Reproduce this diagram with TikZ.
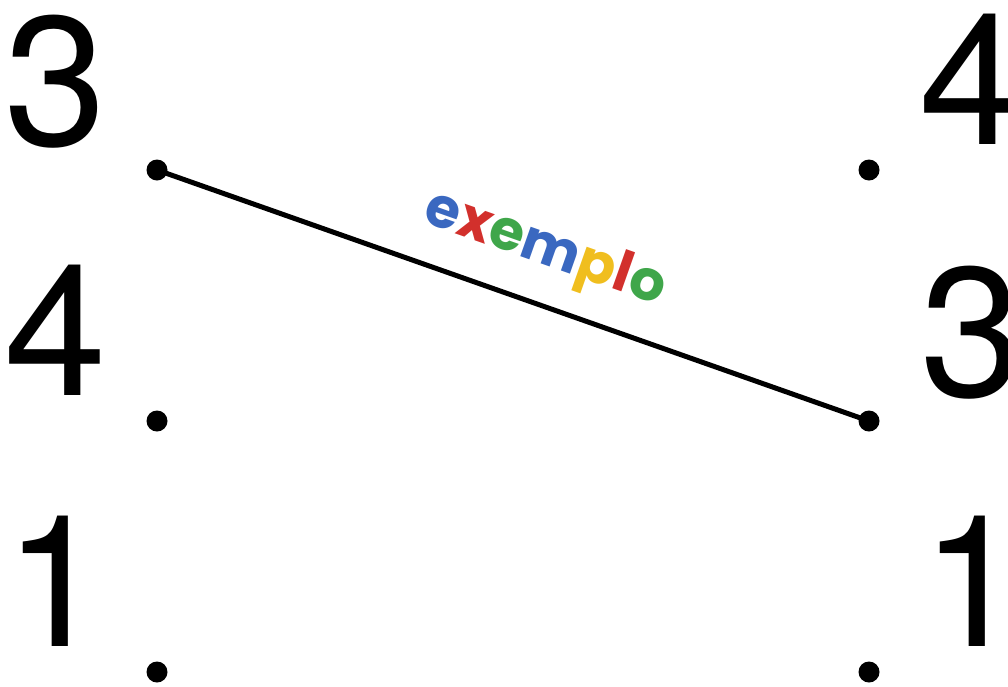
\documentclass[tikz,border=0pt]{standalone}
\usepackage{fontspec}
\setmainfont{TeX Gyre Heros}
\newfontfamily\sketchfont{Poppins}
\usepackage{tikz}
\usetikzlibrary{positioning}
\definecolor{skblue}{HTML}{3A68C0}
\definecolor{skred}{HTML}{D2302C}
\definecolor{skgreen}{HTML}{3FA64A}
\definecolor{skyellow}{HTML}{F0BE1E}

\begin{document}
\begin{tikzpicture}[x=1pt, y=-1pt,
    digit/.style={anchor=base west, inner sep=0pt, font=\fontsize{184}{184}\selectfont},
    dot/.style={circle, fill=black, inner sep=0pt, minimum size=21pt}]
		\useasboundingbox (0,0) rectangle (1008,686);
		% Left column
		\node[digit] (n3) at (4,145) {3};
		\node[digit] (n4) at (4,395) {4};
		\node[digit] (n1) at (4,646) {1};
		\node[dot] (a3) at (157,170) {};
		\node[dot] (a4) at (157,421) {};
		\node[dot] (a1) at (157,672) {};
		% Right column
		\node[digit] (m4) at (919,144) {4};
		\node[digit] (m3) at (920,396) {3};
		\node[digit] (m1) at (921,646) {1};
		\node[dot] (b4) at (869,170) {};
		\node[dot] (b3) at (869,421) {};
		\node[dot] (b1) at (869,672) {};
		% Matching line
		\draw[line width=5pt] (a3.center) -- (b3.center)
			node[sloped, above=22pt, pos=0.52, inner sep=0pt,
				font=\sketchfont\bfseries\fontsize{56}{56}\selectfont] (lbl)
			{\textcolor{skblue}{e}\textcolor{skred}{x}\textcolor{skgreen}{e}\textcolor{skblue}{m}\textcolor{skyellow}{p}\textcolor{skred}{l}\textcolor{skgreen}{o}};
	\end{tikzpicture}
\end{document}
